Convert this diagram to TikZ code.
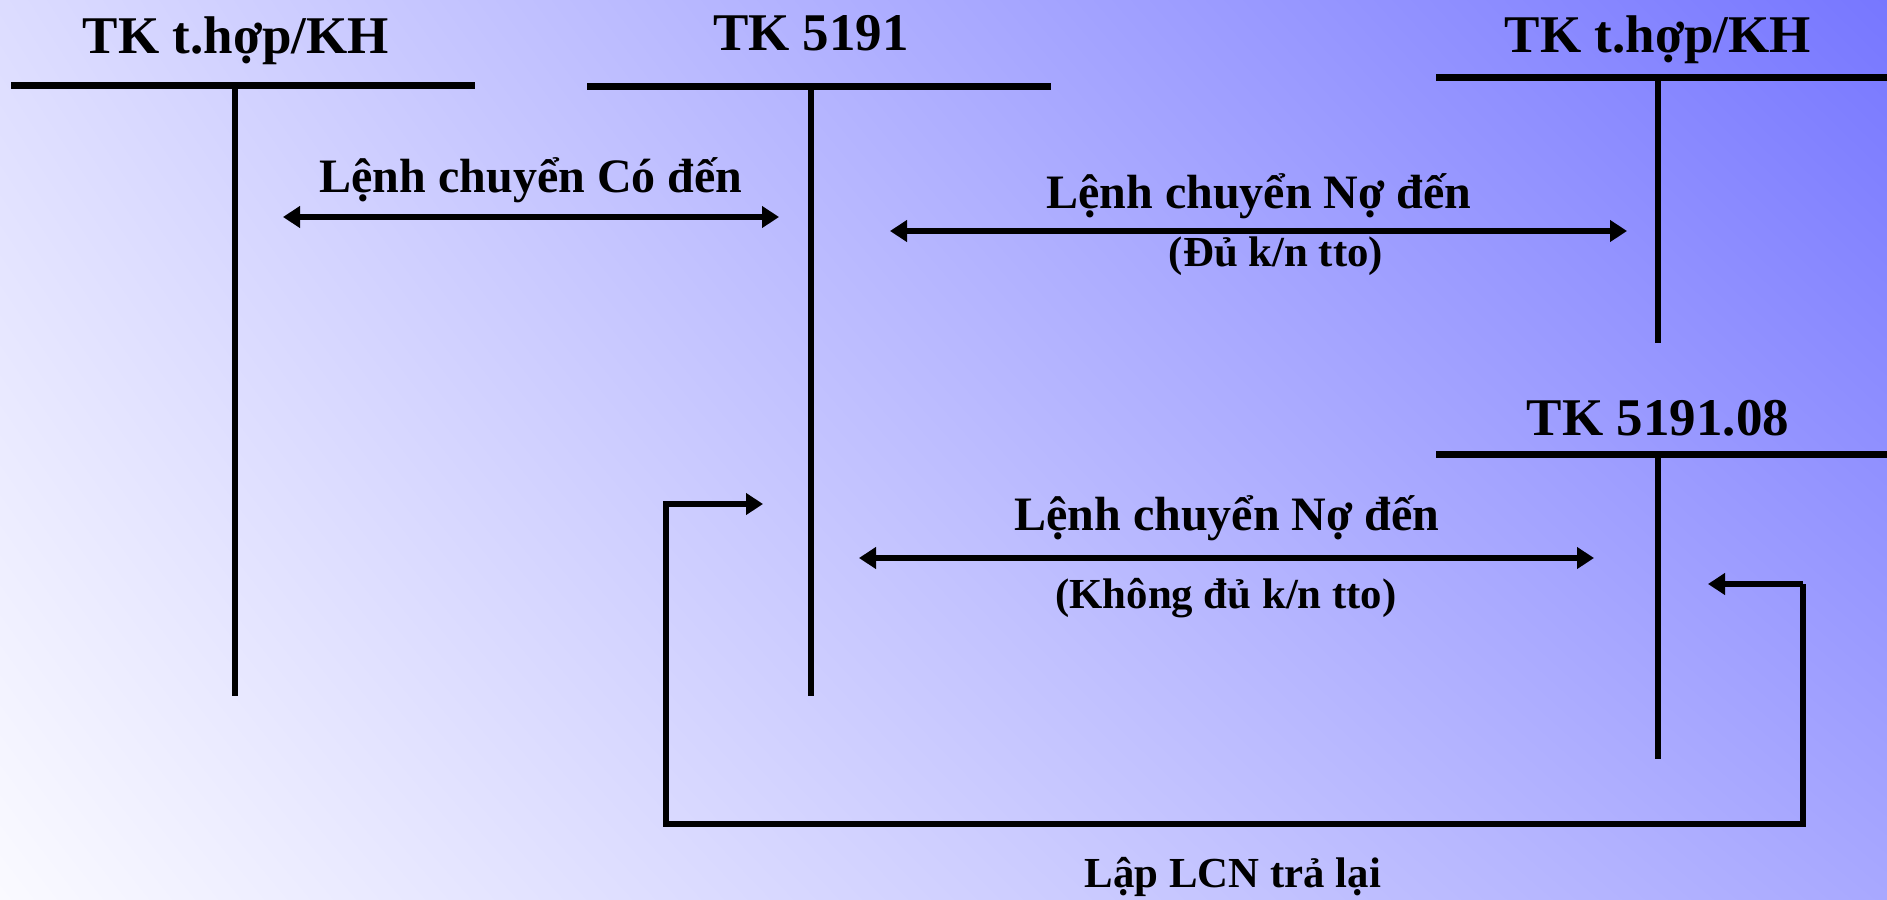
\documentclass[tikz,border=0pt]{standalone}
\usepackage{fontspec}
\setmainfont{Liberation Serif}
\usetikzlibrary{arrows.meta,shadings}
\definecolor{bgTL}{RGB}{220,220,255}
\definecolor{bgTR}{RGB}{119,119,255}
\definecolor{bgBL}{RGB}{250,250,255}
\definecolor{bgBR}{RGB}{168,168,255}
\tikzset{
  acctline/.style={line width=3.5pt},
  acctstem/.style={line width=3pt},
  title/.style={anchor=base, inner sep=0pt, font=\fontsize{26.5}{31}\selectfont\bfseries},
  biglabel/.style={anchor=base, inner sep=0pt, font=\fontsize{24}{28}\selectfont\bfseries},
  smalllabel/.style={anchor=base, inner sep=0pt, font=\fontsize{21.4}{25}\selectfont\bfseries},
  flow/.style={line width=3pt, -{Triangle[length=8.5pt,width=10.5pt]}},
  twoway/.style={line width=3pt, {Triangle[length=8.5pt,width=10.5pt]}-{Triangle[length=8.5pt,width=10.5pt]}},
}
\begin{document}
\begin{tikzpicture}[x=0.5pt,y=-0.5pt]
\useasboundingbox (0,0) rectangle (1887,900);
\shade[upper left=bgTL, upper right=bgTR, lower left=bgBL, lower right=bgBR] (0,0) rectangle (1887,900);

% T accounts: coordinates
\coordinate (a1l) at (11,85);   \coordinate (a1r) at (475,85);
\coordinate (a1t) at (235,85);  \coordinate (a1b) at (235,696);
\coordinate (a2l) at (587,86);  \coordinate (a2r) at (1051,86);
\coordinate (a2t) at (811,86);  \coordinate (a2b) at (811,696);
\coordinate (a3l) at (1436,77); \coordinate (a3r) at (1887,77);
\coordinate (a3t) at (1658,77); \coordinate (a3b) at (1658,343);
\coordinate (a4l) at (1436,454); \coordinate (a4r) at (1887,454);
\coordinate (a4t) at (1658,454); \coordinate (a4b) at (1658,759);

\draw[acctline] (a1l) -- (a1r);
\draw[acctstem] (a1t) -- (a1b);
\draw[acctline] (a2l) -- (a2r);
\draw[acctstem] (a2t) -- (a2b);
\draw[acctline] (a3l) -- (a3r);
\draw[acctstem] (a3t) -- (a3b);
\draw[acctline] (a4l) -- (a4r);
\draw[acctstem] (a4t) -- (a4b);

% titles
\node[title] (t1) at (236,53) {TK t.hợp/KH};
\node[title] (t2) at (811,50) {TK 5191};
\node[title] (t3) at (1658,52) {TK t.hợp/KH};
\node[title] (t4) at (1658,435) {TK 5191.08};

% arrows
\coordinate (e1l) at (283,217);  \coordinate (e1r) at (779,217);
\coordinate (e2l) at (890,231);  \coordinate (e2r) at (1627,231);
\coordinate (e3l) at (859,558);  \coordinate (e3r) at (1594,558);
\draw[twoway] (e1l) -- (e1r);
\draw[twoway] (e2l) -- (e2r);
\draw[twoway] (e3l) -- (e3r);

\node[biglabel] (l1) at (531,192) {Lệnh chuyển Có đến};
\node[biglabel] (l2) at (1259,208) {Lệnh chuyển Nợ đến};
\node[smalllabel] (l2b) at (1276,266) {(Đủ k/n tto)};
\node[biglabel] (l3) at (1227,530) {Lệnh chuyển Nợ đến};
\node[smalllabel] (l3b) at (1226,608) {(Không đủ k/n tto)};

% return loop
\coordinate (r0) at (1803,584);
\coordinate (r1) at (1708,584);
\coordinate (r2) at (1803,824);
\coordinate (r3) at (666,824);
\coordinate (r4) at (666,504);
\coordinate (r5) at (763,504);
\draw[flow] (r0) -- (r1);
\draw[flow, line join=miter] (r0) -- (r2) -- (r3) -- (r4) -- (r5);

\node[smalllabel] (l4) at (1233,887) {Lập LCN trả lại};
\end{tikzpicture}
\end{document}
